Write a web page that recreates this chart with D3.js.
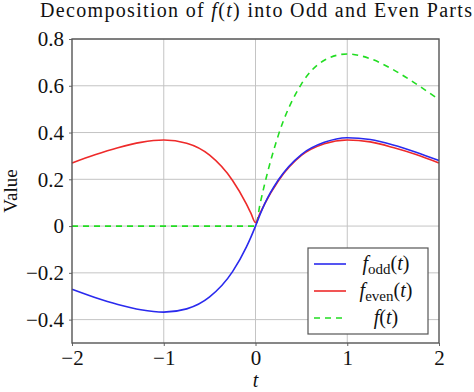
<!DOCTYPE html>
<html>
<head>
<meta charset="utf-8">
<script src="https://cdn.jsdelivr.net/npm/d3@7"></script>
<style>
  body { margin: 0; background: #fff; }
  svg { display: block; }
  svg text { font-family: "Liberation Serif", "DejaVu Serif", serif; }
</style>
</head>
<body>
<div id="chart"></div>
<script>
// valores
const tVals    = [-2, -1.75, -1.5, -1.25, -1, -0.75, -0.5, -0.25, -0.1, -0.05, 0, 0.05, 0.1, 0.25, 0.5, 0.75, 1, 1.25, 1.5, 1.75, 2];
const oddVals  = [-0.27, -0.305, -0.335, -0.358, -0.368, -0.354, -0.303, -0.195, -0.09, -0.047, 0, 0.05, 0.095, 0.198, 0.306, 0.358, 0.378, 0.37, 0.347, 0.316, 0.28];
const evenVals = [0.27, 0.305, 0.335, 0.358, 0.368, 0.354, 0.303, 0.195, 0.095, 0.055, 0.015, 0.055, 0.095, 0.194, 0.302, 0.352, 0.368, 0.36, 0.336, 0.306, 0.27];
const fVals    = [0, 0, 0, 0, 0, 0, 0, 0, 0, 0, 0, 0.095, 0.18, 0.39, 0.607, 0.709, 0.736, 0.716, 0.669, 0.608, 0.541];
const xTicks = [-2, -1, 0, 1, 2];
const yTicks = [-0.4, -0.2, 0, 0.2, 0.4, 0.6, 0.8];

const W = 474, H = 392;
const M = { left: 72, right: 35, top: 39, bottom: 49 };

const svg = d3.select('#chart').append('svg').attr('width', W).attr('height', H);

const x = d3.scaleLinear().domain([-2, 2]).range([M.left, W - M.right]);
const y = d3.scaleLinear().domain([-0.5, 0.8]).range([H - M.bottom, M.top]);

// grade
const grid = svg.append('g').attr('stroke', '#c4c4c4').attr('stroke-width', 1);
grid.selectAll('line.gx').data(xTicks.slice(1, -1)).enter().append('line')
  .attr('x1', (d) => x(d)).attr('x2', (d) => x(d))
  .attr('y1', y(-0.5)).attr('y2', y(0.8));
grid.selectAll('line.gy').data(yTicks).enter().append('line')
  .attr('x1', x(-2)).attr('x2', x(2))
  .attr('y1', (d) => y(d)).attr('y2', (d) => y(d));

// eixos (rotulos + pequenos ticks; moldura desenhada a parte)
const fmtY = (d) => (d === 0 ? '0' : d3.format('.1f')(d).replace('-', '\u2212'));
const fmtX = (d) => String(d).replace('-', '\u2212');

const yAxis = svg.append('g').attr('transform', `translate(${M.left},0)`)
  .call(d3.axisLeft(y).tickValues(yTicks).tickFormat(fmtY).tickSizeInner(3).tickSizeOuter(0).tickPadding(5));
const xAxis = svg.append('g').attr('transform', `translate(0,${H - M.bottom})`)
  .call(d3.axisBottom(x).tickValues(xTicks).tickFormat(fmtX).tickSizeInner(3).tickSizeOuter(0).tickPadding(3));
[yAxis, xAxis].forEach((a) => {
  a.select('.domain').remove();
  a.selectAll('line').attr('stroke', '#666');
  a.selectAll('text').style('font-family', '"Liberation Serif", serif').attr('font-size', 21).attr('fill', '#111');
});
xAxis.selectAll('text').attr('dy', '0.76em');

// curvas
const series = [
  { vals: fVals, color: '#22dd22', dash: '6,5' },
  { vals: evenVals, color: '#ee2a2a', dash: null },
  { vals: oddVals, color: '#2a2aee', dash: null },
];
const line = d3.line().x((d) => x(d[0])).y((d) => y(d[1])).curve(d3.curveMonotoneX);
series.forEach((s) => {
  svg.append('path')
    .datum(tVals.map((t, i) => [t, s.vals[i]]))
    .attr('fill', 'none').attr('stroke', s.color).attr('stroke-width', 1.6)
    .attr('stroke-dasharray', s.dash)
    .attr('d', line);
});

// moldura
svg.append('rect')
  .attr('x', x(-2)).attr('y', y(0.8))
  .attr('width', x(2) - x(-2)).attr('height', y(-0.5) - y(0.8))
  .attr('fill', 'none').attr('stroke', '#555').attr('stroke-width', 1.4);

// titulo
const title = svg.append('text').attr('x', 40).attr('y', 17)
  .attr('font-size', 20).attr('fill', '#111')
  .attr('textLength', 432).attr('lengthAdjust', 'spacing');
title.append('tspan').text('Decomposition of ');
title.append('tspan').attr('font-style', 'italic').text('f');
title.append('tspan').text('(');
title.append('tspan').attr('font-style', 'italic').text('t');
title.append('tspan').text(') into Odd and Even Parts');

// rotulos dos eixos
svg.append('text').attr('transform', `translate(17,${(y(0.8) + y(-0.5)) / 2}) rotate(-90)`)
  .attr('text-anchor', 'middle').attr('font-size', 19).attr('fill', '#111').text('Value');
svg.append('text').attr('x', x(0)).attr('y', 387).attr('text-anchor', 'middle')
  .attr('font-size', 20).attr('font-style', 'italic').attr('fill', '#111').text('t');

// legenda
const lg = svg.append('g').attr('transform', 'translate(308,248)');
lg.append('rect').attr('width', 120).attr('height', 86)
  .attr('fill', '#fff').attr('stroke', '#555').attr('stroke-width', 1.2);
const legendItems = [
  { name: 'f', sub: 'odd', color: '#2a2aee', dash: null },
  { name: 'f', sub: 'even', color: '#ee2a2a', dash: null },
  { name: 'f', sub: null, color: '#22dd22', dash: '6,5' },
];
legendItems.forEach((d, i) => {
  const cy = 16 + i * 27;
  lg.append('line').attr('x1', 6).attr('x2', 38).attr('y1', cy).attr('y2', cy)
    .attr('stroke', d.color).attr('stroke-width', 1.6).attr('stroke-dasharray', d.dash);
  const tx = lg.append('text').attr('x', 78).attr('y', cy + 6)
    .attr('text-anchor', 'middle').attr('font-size', 20).attr('fill', '#111');
  tx.append('tspan').attr('font-style', 'italic').text(d.name);
  if (d.sub) tx.append('tspan').attr('font-size', 15).attr('dy', 4).text(d.sub);
  tx.append('tspan').attr('dy', d.sub ? -4 : 0).text('(');
  tx.append('tspan').attr('font-style', 'italic').text('t');
  tx.append('tspan').text(')');
});
</script>
</body>
</html>
